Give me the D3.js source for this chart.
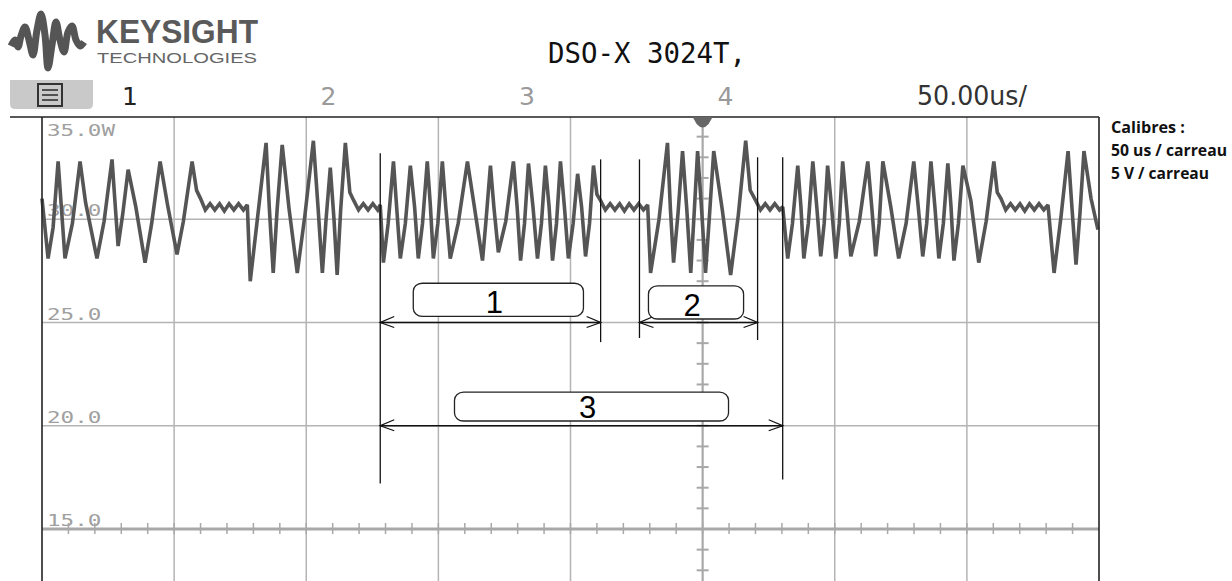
<!DOCTYPE html>
<html>
<head>
<meta charset="utf-8">
<script src="https://cdn.jsdelivr.net/npm/d3@7"></script>
<style>
  html, body { margin: 0; padding: 0; background: #fff; }
  svg { display: block; }
</style>
</head>
<body>
<svg id="scope" width="1232" height="581"></svg>
<script>
// captured trace: [time in us from left edge, volts]
const trace = [
  [0, 31.0], [2.3, 28.1], [4.2, 29.6], [6.1, 32.8], [7.2, 30.8], [8.7, 28.1],
  [11.5, 29.8], [14.4, 32.8], [16.5, 30.8], [20.8, 28.1],
  [23.5, 29.9], [26.5, 32.9], [27.8, 30.5], [28.8, 28.7], [30.5, 30.2], [32.6, 32.4], [35.5, 30.6], [39.0, 27.9],
  [41.5, 29.8], [44.7, 32.8], [47.5, 30.7], [51.1, 28.3],
  [53.5, 29.9], [56.8, 32.8], [58.5, 31.4], [60, 31.0],
  [61.8, 30.45], [63.6, 30.75], [65.4, 30.45], [67.2, 30.75], [69, 30.4], [70.8, 30.75], [72.6, 30.45], [74.4, 30.75], [76.2, 30.45], [77.7, 30.7],
  [78.8, 27.0], [81.5, 30.0], [84.8, 33.7], [86, 30.6], [87.5, 27.4], [89, 30.5], [90.9, 33.6], [93.5, 30.5], [96.6, 27.4],
  [99.5, 30.2], [102.7, 33.8], [104.5, 30.5], [106.1, 27.4], [107.5, 30.0], [109.1, 32.5], [110.5, 30.0], [111.7, 27.3],
  [113, 30.4], [114.8, 33.7], [116.5, 31.3], [118, 30.9],
  [119.8, 30.45], [121.6, 30.75], [123.4, 30.45], [125.2, 30.75], [127, 30.45], [128, 30.7],
  [129.2, 27.9], [131, 29.8], [133, 32.8], [134.2, 30.6], [135.6, 28.1], [137.5, 29.8], [139.4, 32.6], [141, 30.6], [142.4, 28.1],
  [144, 29.8], [145.8, 32.8], [147, 30.6], [148.1, 28.1], [149.8, 29.8], [151.5, 32.8], [152.8, 30.6], [154.5, 28.1],
  [157.5, 29.8], [161, 32.8], [163.5, 30.7], [166.7, 28.0], [168, 29.9], [169.7, 32.6], [171, 30.6], [172.7, 28.4],
  [175.5, 29.9], [178.4, 32.8], [179.8, 30.6], [181.1, 28.0], [182.6, 29.8], [184.1, 32.7], [185.8, 30.6], [187.5, 28.1],
  [189, 29.8], [190.5, 32.6], [191.9, 30.6], [193.2, 28.0], [194.7, 29.8], [196.2, 32.8], [197.7, 30.6], [199.2, 28.1],
  [201, 29.8], [202.7, 32.2], [204.2, 30.6], [205.7, 28.2], [207.2, 29.8], [208.7, 32.6], [210, 31.2], [211.4, 30.9],
  [213.2, 30.45], [215, 30.75], [216.8, 30.45], [218.6, 30.75], [220.4, 30.4], [222.2, 30.75], [224, 30.45], [225.8, 30.75], [227.6, 30.45], [229.2, 30.7],
  [230.3, 27.4], [233.5, 30.0], [236.7, 33.7], [237.8, 30.5], [239.0, 27.9], [240.7, 30.3], [242.4, 33.3], [244, 30.5], [245.5, 27.4],
  [246.8, 30.3], [248.1, 33.3], [249.6, 30.5], [251.1, 27.4], [252.6, 30.2], [254.2, 33.3], [257.5, 30.4], [260.6, 27.3],
  [263.5, 30.2], [266.3, 33.8], [268, 31.4], [270.1, 30.9],
  [271.9, 30.45], [273.7, 30.75], [275.5, 30.45], [277.3, 30.75], [279.1, 30.45], [280.3, 30.6],
  [282.2, 28.1], [284, 29.8], [286, 32.6], [287.2, 30.6], [288.3, 28.1], [290, 29.8], [291.7, 32.8], [293.2, 30.6], [294.7, 28.2],
  [296, 29.8], [297.3, 32.6], [298.8, 30.6], [300.4, 28.1], [301.7, 29.8], [303, 32.8], [304.5, 30.6], [306.1, 28.2],
  [309.3, 29.9], [312.5, 32.8], [314, 30.6], [315.5, 28.2], [316.8, 29.8], [318.2, 32.8], [321.2, 30.6], [324.2, 28.1],
  [327, 29.8], [329.9, 32.8], [331.6, 30.6], [333.3, 28.2], [334.8, 29.8], [336.4, 32.8], [337.9, 30.6], [339.4, 28.1],
  [341.1, 29.8], [342.8, 32.7], [344, 30.6], [345.1, 28.0], [346.8, 29.8], [348.5, 32.6], [351.5, 30.9], [354.5, 27.9],
  [357.3, 29.9], [360.2, 32.8], [361.5, 31.3], [362.9, 31.0],
  [364.7, 30.45], [366.5, 30.75], [368.3, 30.45], [370.1, 30.75], [371.9, 30.4], [373.7, 30.75], [375.5, 30.45], [377.3, 30.75], [379.1, 30.45], [380.7, 30.7],
  [383.0, 27.4], [385.6, 30.1], [388.3, 33.3], [389.8, 30.5], [391.3, 27.8], [392.8, 30.3], [394.3, 33.3], [397, 31.0], [399.6, 29.5]
];

const voltLabels = ["35.0W", "30.0", "25.0", "20.0", "15.0"];
const voltLines = [35, 30, 25, 20, 15];
const channelLabels = ["1", "2", "3", "4"];
const calibres = ["Calibres :", "50 us / carreau", "5 V / carreau"];
const calibreWidths = [74, 116, 98];

// hand-drawn cursors: time, top volt, bottom volt
const cursors = [
  [128.0, 33.2, 17.2], [211.4, 32.9, 24.05], [226.1, 32.9, 24.25], [270.8, 33.0, 24.15], [280.3, 33.0, 17.4]
];
// measured spans: from, to, volts
const spans = [[128.0, 211.4, 25], [226.1, 270.8, 25], [128.0, 280.3, 20]];
// label boxes: name, t0, t1, vTop, vBottom
const boxes = [
  ["1", 140.5, 204.9, 26.9, 25.3],
  ["2", 229.5, 265.5, 26.77, 25.17],
  ["3", 156.1, 259.8, 21.63, 20.23]
];

const svg = d3.select("#scope");
const x = d3.scaleLinear().domain([0, 400]).range([42, 1099]);
const y = d3.scaleLinear().domain([35, 15]).range([116, 529]);
const trigT = 250;

/* grid */
const grid = svg.append("g").attr("stroke", "#b4b4b4").attr("stroke-width", 1.5);
grid.selectAll(".v").data(d3.range(50, 400, 50)).enter().append("line")
  .attr("x1", d => x(d)).attr("x2", d => x(d)).attr("y1", 117).attr("y2", 581);
grid.selectAll(".h").data(voltLines.slice(1, 4)).enter().append("line")
  .attr("x1", 42).attr("x2", 1099).attr("y1", d => y(d)).attr("y2", d => y(d));

// center axes with minor ticks
const axes = svg.append("g").attr("stroke", "#a8a8a8");
axes.append("line").attr("x1", 42).attr("x2", 1099).attr("y1", y(15)).attr("y2", y(15)).attr("stroke-width", 3);
axes.selectAll(".tx").data(d3.range(10, 400, 10)).enter().append("line")
  .attr("stroke-width", 1.5)
  .attr("x1", d => x(d)).attr("x2", d => x(d)).attr("y1", y(15) - 6).attr("y2", y(15) + 5);
axes.append("line").attr("x1", x(trigT)).attr("x2", x(trigT)).attr("y1", 117).attr("y2", 581).attr("stroke-width", 2);
axes.selectAll(".ty").data(d3.range(34, 10, -1)).enter().append("line")
  .attr("stroke-width", 2)
  .attr("x1", x(trigT) - 6).attr("x2", x(trigT) + 6).attr("y1", d => y(d)).attr("y2", d => y(d));

/* volt labels */
svg.append("g").selectAll("text").data(voltLabels).enter().append("text")
  .attr("x", 47).attr("y", (d, i) => y(voltLines[i]) + (i === 0 ? 20 : -3))
  .attr("font-family", "DejaVu Sans Mono").attr("font-size", 16)
  .attr("fill", "#a0a0a0")
  .attr("textLength", d => d.length * 13.6).attr("lengthAdjust", "spacingAndGlyphs")
  .text(d => d);

/* trace */
const line = d3.line().x(d => x(d[0])).y(d => y(d[1]));
svg.append("path").datum(trace).attr("d", line)
  .attr("fill", "none").attr("stroke", "#555").attr("stroke-width", 3.6)
  .attr("stroke-linejoin", "miter").attr("stroke-miterlimit", 2);

/* frame */
const frame = svg.append("g").attr("stroke", "#222").attr("stroke-width", 1.6);
frame.append("line").attr("x1", 10).attr("x2", 1099).attr("y1", 117).attr("y2", 117);
frame.append("line").attr("x1", 42).attr("x2", 42).attr("y1", 117).attr("y2", 581);
frame.append("line").attr("x1", 1099).attr("x2", 1099).attr("y1", 117).attr("y2", 581);

// trigger marker
svg.append("path")
  .attr("d", `M${x(trigT) - 10},117 L${x(trigT) + 10},117 L${x(trigT) + 6},124 Q${x(trigT)},131 ${x(trigT) - 6},124 Z`)
  .attr("fill", "#666");

/* annotations */
const ann = svg.append("g").attr("stroke", "#111").attr("stroke-width", 1.3).attr("fill", "none");
ann.selectAll(".cur").data(cursors).enter().append("line")
  .attr("x1", d => x(d[0])).attr("x2", d => x(d[0])).attr("y1", d => y(d[1])).attr("y2", d => y(d[2]));

spans.forEach(s => {
  const x0 = x(s[0]), x1 = x(s[1]), yy = y(s[2]);
  ann.append("line").attr("x1", x0).attr("x2", x1).attr("y1", yy).attr("y2", yy);
  ann.append("path").attr("d", `M${x0 + 14},${yy - 6} L${x0},${yy} L${x0 + 14},${yy + 5}`);
  ann.append("path").attr("d", `M${x1 - 14},${yy - 6} L${x1},${yy} L${x1 - 14},${yy + 5}`);
});

const bx = svg.append("g");
bx.selectAll("rect").data(boxes).enter().append("rect")
  .attr("x", d => x(d[1])).attr("y", d => y(d[3]))
  .attr("width", d => x(d[2]) - x(d[1])).attr("height", d => y(d[4]) - y(d[3]))
  .attr("rx", 9).attr("ry", 8)
  .attr("fill", "#fff").attr("stroke", "#222").attr("stroke-width", 1.3);
bx.selectAll("text").data(boxes).enter().append("text")
  .attr("x", d => (x(d[1]) + x(d[2])) / 2 - 4).attr("y", d => y(d[4]) - 3)
  .attr("text-anchor", "middle")
  .attr("font-family", "Liberation Sans, Arial").attr("font-size", 31).attr("fill", "#000")
  .text(d => d[0]);

/* header */
const logoPts = [[11, 46], [15, 40], [18, 47], [21, 36], [25, 27], [29, 40], [33, 55], [37, 30], [41, 14], [45, 35], [48, 68], [52, 45], [56, 22], [60, 40], [64, 52], [68, 32], [72, 26], [76, 40], [80, 46], [84, 42]];
svg.append("path").datum(logoPts).attr("d", d3.line().curve(d3.curveCatmullRom))
  .attr("fill", "none").attr("stroke", "#555").attr("stroke-width", 7).attr("stroke-linejoin", "round");

svg.append("text").attr("x", 96).attr("y", 43)
  .attr("font-family", "Liberation Sans, Arial").attr("font-weight", "bold").attr("font-size", 34)
  .attr("fill", "#5a5a5a").attr("textLength", 162).attr("lengthAdjust", "spacingAndGlyphs")
  .text("KEYSIGHT");
svg.append("text").attr("x", 97).attr("y", 63)
  .attr("font-family", "Liberation Sans, Arial").attr("font-size", 15)
  .attr("fill", "#666").attr("textLength", 160).attr("lengthAdjust", "spacingAndGlyphs")
  .text("TECHNOLOGIES");

svg.append("text").attr("x", 548).attr("y", 63)
  .attr("font-family", "DejaVu Sans Mono").attr("font-size", 29)
  .attr("fill", "#111").attr("textLength", 198).attr("lengthAdjust", "spacingAndGlyphs")
  .text("DSO-X 3024T,");

// menu button
svg.append("path")
  .attr("d", "M10,80 L93,80 L93,104 Q93,109 88,109 L15,109 Q10,109 10,104 Z")
  .attr("fill", "#c9c9c9");
svg.append("rect").attr("x", 38).attr("y", 84).attr("width", 24).attr("height", 22)
  .attr("fill", "none").attr("stroke", "#333").attr("stroke-width", 2);
svg.append("g").attr("stroke", "#333").attr("stroke-width", 1.6)
  .selectAll("line").data([90, 95, 100]).enter().append("line")
  .attr("x1", 42).attr("x2", 58).attr("y1", d => d).attr("y2", d => d);

svg.append("g").selectAll("text").data(channelLabels).enter().append("text")
  .attr("x", (d, i) => 130 + i * 198.5).attr("y", 105)
  .attr("text-anchor", "middle")
  .attr("font-family", "DejaVu Sans").attr("font-size", 25)
  .attr("fill", (d, i) => i === 0 ? "#222" : "#9a9a9a")
  .text(d => d);

svg.append("text").attr("x", 917).attr("y", 105)
  .attr("font-family", "DejaVu Sans").attr("font-size", 26)
  .attr("fill", "#333").attr("textLength", 110).attr("lengthAdjust", "spacingAndGlyphs")
  .text("50.00us/");

svg.append("g").selectAll("text").data(calibres).enter().append("text")
  .attr("x", 1111).attr("y", (d, i) => 133 + i * 23)
  .attr("font-family", "Open Sans").attr("font-weight", "bold").attr("font-size", 16.5)
  .attr("fill", "#111")
  .attr("textLength", (d, i) => calibreWidths[i]).attr("lengthAdjust", "spacingAndGlyphs")
  .text(d => d);
</script>
</body>
</html>
